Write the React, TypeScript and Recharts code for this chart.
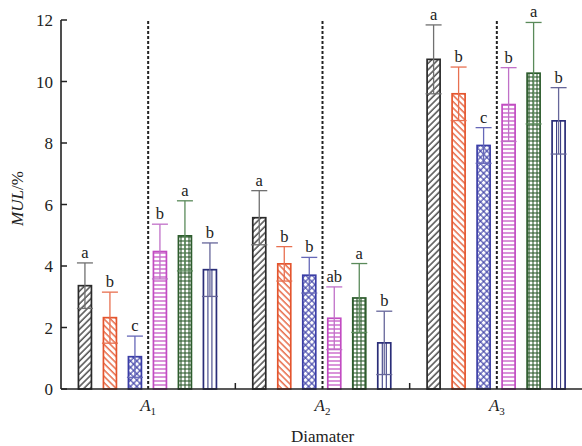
import React from 'react';
import { BarChart, Bar, XAxis, YAxis, ErrorBar, ReferenceLine } from 'recharts';

const categories = ['A1', 'A2', 'A3'];
const yTicks = [0, 2, 4, 6, 8, 10, 12];

const values1 = [3.36, 5.57, 10.72];
const errors1 = [0.74, 0.88, 1.12];
const letters1 = ['a', 'a', 'a'];
const values2 = [2.32, 4.07, 9.6];
const errors2 = [0.83, 0.56, 0.87];
const letters2 = ['b', 'b', 'b'];
const values3 = [1.05, 3.7, 7.92];
const errors3 = [0.67, 0.58, 0.58];
const letters3 = ['c', 'b', 'c'];
const values4 = [4.47, 2.3, 9.25];
const errors4 = [0.89, 1.02, 1.2];
const letters4 = ['b', 'ab', 'b'];
const values5 = [4.98, 2.96, 10.27];
const errors5 = [1.14, 1.12, 1.65];
const letters5 = ['a', 'a', 'a'];
const values6 = [3.88, 1.5, 8.72];
const errors6 = [0.87, 1.03, 1.08];
const letters6 = ['b', 'b', 'b'];

const allValues = [values1, values2, values3, values4, values5, values6];
const allErrors = [errors1, errors2, errors3, errors4, errors5, errors6];
const allLetters = [letters1, letters2, letters3, letters4, letters5, letters6];

const data = categories.map((cat, i) => {
  const row: any = { cat };
  allValues.forEach((vals, k) => {
    row[`v${k}`] = vals[i];
    row[`e${k}`] = allErrors[k][i];
    row[`l${k}`] = allLetters[k][i];
  });
  return row;
});

const FONT = '"Liberation Serif", "Times New Roman", serif';
const outline = ['#2a2a2a', '#e4552e', '#3a3da6', '#c24cc2', '#2d5c2d', '#2a2d78'];
const errColor = ['#707070', '#e87050', '#6668b8', '#c070c8', '#5a8a5a', '#66669a'];

const makeShape = (k: number) => (props: any) => {
  const { x, y, width, height, payload } = props;
  if (width == null || height == null) return null;
  const v = payload[`v${k}`];
  const e = payload[`e${k}`];
  const letter = payload[`l${k}`];
  const pxPerUnit = v ? height / v : 0;
  const capY = y - e * pxPerUnit;
  const cx = x + width / 2;
  return (
    <g>
      <rect x={x} y={y} width={width} height={height} fill={`url(#pat${k})`} stroke={outline[k]} strokeWidth={1.7} />
      {k === 5 && (
        <g stroke={outline[k]} strokeWidth={1}>
          <line x1={cx - 2} x2={cx - 2} y1={y} y2={y + height} />
          <line x1={cx + 2} x2={cx + 2} y1={y} y2={y + height} />
        </g>
      )}
      <text x={cx} y={capY - 5} textAnchor="middle" fontSize={16.5} fontFamily={FONT} fill="#222">
        {letter}
      </text>
    </g>
  );
};

const XTick = (props: any) => {
  const { x, y, payload } = props;
  const s = String(payload.value);
  return (
    <text x={x} y={y} dy={14} textAnchor="middle" fontFamily={FONT} fontSize={17} fill="#222">
      <tspan fontStyle="italic">{s.charAt(0)}</tspan>
      <tspan fontSize={11} dy={4}>{s.slice(1)}</tspan>
    </text>
  );
};

const YLabel = (props: any) => {
  const vb = props.viewBox || {};
  const cx = (vb.x || 0) + 17;
  const cy = (vb.y || 0) + (vb.height || 0) / 2 - 6;
  return (
    <text x={cx} y={cy} transform={`rotate(-90, ${cx}, ${cy})`} textAnchor="middle" dominantBaseline="central" fontFamily={FONT} fontSize={17} fill="#222">
      <tspan fontStyle="italic">MUL</tspan>
      <tspan>/%</tspan>
    </text>
  );
};

const BoundaryTick = (props: any) => {
  const { x1, y1, y2 } = props;
  if (x1 == null) return <g />;
  const b = Math.max(Number(y1), Number(y2));
  return <line x1={x1} x2={x1} y1={b} y2={b - 6} stroke="#222" strokeWidth={1.5} />;
};

export default function App() {
  return (
    <div style={{ position: 'absolute', left: 0, top: 0, width: 582, height: 446, overflow: 'hidden', background: '#fff' }}>
      <BarChart
        width={600}
        height={446}
        data={data}
        margin={{ top: 20, right: 16, left: 0, bottom: 0 }}
        barCategoryGap="10%"
        barGap={12}
      >
        <defs>
          <pattern id="pat0" patternUnits="userSpaceOnUse" width={4.5} height={4.5} patternTransform="rotate(45)">
            <rect width={4.5} height={4.5} fill="#fff" />
            <line x1={1} y1={0} x2={1} y2={4.5} stroke="#333" strokeWidth={1.3} />
          </pattern>
          <pattern id="pat1" patternUnits="userSpaceOnUse" width={4.5} height={4.5} patternTransform="rotate(-45)">
            <rect width={4.5} height={4.5} fill="#fff" />
            <line x1={1} y1={0} x2={1} y2={4.5} stroke="#e4552e" strokeWidth={1.3} />
          </pattern>
          <pattern id="pat2" patternUnits="userSpaceOnUse" width={4.5} height={4.5} patternTransform="rotate(45)">
            <rect width={4.5} height={4.5} fill="#fff" />
            <line x1={1} y1={0} x2={1} y2={4.5} stroke="#3a3da6" strokeWidth={1.1} />
            <line x1={0} y1={1} x2={4.5} y2={1} stroke="#3a3da6" strokeWidth={1.1} />
          </pattern>
          <pattern id="pat3" patternUnits="userSpaceOnUse" width={4} height={4}>
            <rect width={4} height={4} fill="#fff" />
            <line x1={0} y1={1} x2={4} y2={1} stroke="#c24cc2" strokeWidth={1.2} />
          </pattern>
          <pattern id="pat4" patternUnits="userSpaceOnUse" width={4} height={4}>
            <rect width={4} height={4} fill="#fff" />
            <line x1={0} y1={1} x2={4} y2={1} stroke="#2d5c2d" strokeWidth={1.1} />
            <line x1={1} y1={0} x2={1} y2={4} stroke="#2d5c2d" strokeWidth={1.1} />
          </pattern>
          <pattern id="pat5" patternUnits="userSpaceOnUse" width={4} height={4}>
            <rect width={4} height={4} fill="#fff" />
          </pattern>
        </defs>
        <XAxis
          dataKey="cat"
          tickLine={false}
          axisLine={{ stroke: '#222', strokeWidth: 1.6 }}
          tick={<XTick />}
          height={57}
          interval={0}
          label={{ value: 'Diamater', position: 'insideBottom', offset: 4, fill: '#222', fontSize: 17, fontFamily: FONT }}
        />
        <YAxis
          domain={[0, 12]}
          ticks={yTicks}
          width={61}
          tickSize={-6}
          tickMargin={14}
          tickLine={{ stroke: '#222', strokeWidth: 1.5 }}
          axisLine={{ stroke: '#222', strokeWidth: 1.6 }}
          tick={{ fill: '#222', fontSize: 17, fontFamily: FONT }}
          interval={0}
          label={<YLabel />}
        />
        {categories.map((c) => (
          <ReferenceLine key={c} x={c} stroke="#222" strokeWidth={2} strokeDasharray="3 2" />
        ))}
        {categories.slice(1).map((c) => (
          <ReferenceLine key={`b${c}`} x={c} position="start" stroke="#222" shape={<BoundaryTick />} />
        ))}
        {allValues.map((_, k) => (
          <Bar key={k} dataKey={`v${k}`} isAnimationActive={false} shape={makeShape(k)}>
            <ErrorBar dataKey={`e${k}`} width={8} stroke={errColor[k]} strokeWidth={1.3} direction="y" />
          </Bar>
        ))}
      </BarChart>
    </div>
  );
}
